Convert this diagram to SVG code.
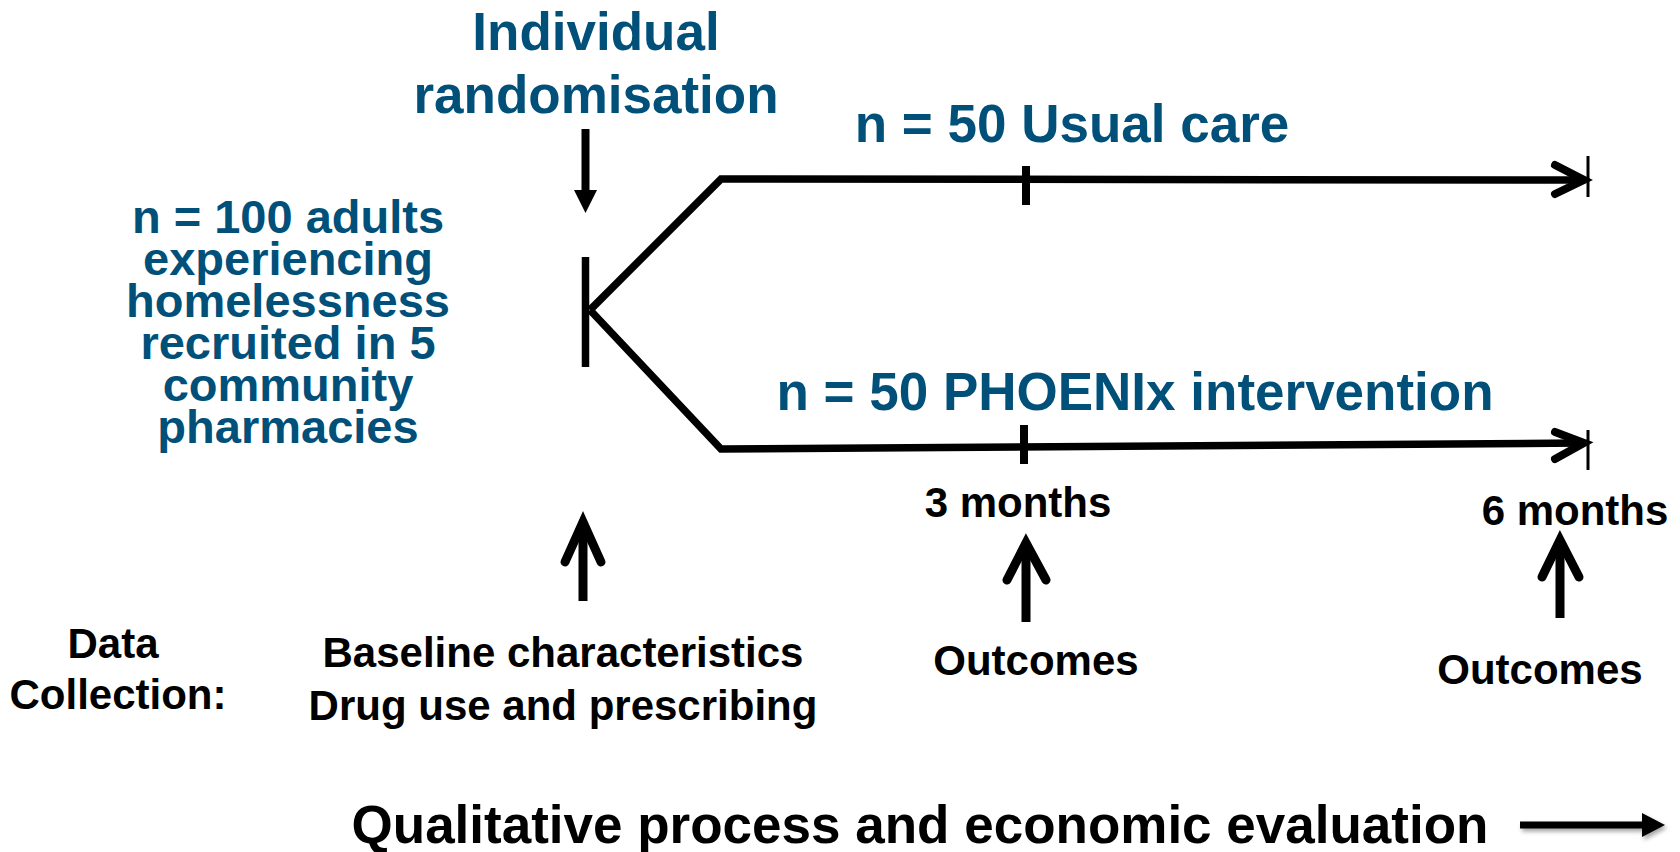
<svg xmlns="http://www.w3.org/2000/svg" width="1680" height="852" viewBox="0 0 1680 852">
<style>
text{font-family:"Liberation Sans",Arial,sans-serif;font-weight:bold;text-anchor:middle}
.blue{fill:#00507A}
.big{font-size:53px}
.mid{font-size:47px}
.sm{font-size:42px;fill:#000}
.ln{stroke:#000;stroke-width:7.5;fill:none}
.thin{stroke:#000;stroke-width:3;fill:none}
.chev{stroke:#000;stroke-width:8;fill:none;stroke-linecap:round;stroke-linejoin:miter}
.up{stroke:#000;stroke-width:9;fill:none;stroke-linejoin:miter}
</style>
<defs>
<filter id="sh" x="-10%" y="-50%" width="130%" height="250%">
<feDropShadow dx="2" dy="3" stdDeviation="2" flood-color="#000" flood-opacity="0.35"/>
</filter>
</defs>
<rect width="1680" height="852" fill="#fff"/>

<g id="randomisation-label">
<text class="blue big" x="596" y="50">Individual</text>
<text class="blue big" x="596" y="113">randomisation</text>
</g>

<g id="population">
<text class="blue mid" x="288" y="233">n = 100 adults</text>
<text class="blue mid" x="288" y="275">experiencing</text>
<text class="blue mid" x="288" y="317">homelessness</text>
<text class="blue mid" x="288" y="359">recruited in 5</text>
<text class="blue mid" x="288" y="401">community</text>
<text class="blue mid" x="288" y="443">pharmacies</text>
</g>

<g id="usual-care">
<text class="blue big" x="1072" y="142">n = 50 Usual care</text>
</g>

<g id="intervention">
<text class="blue big" x="1135" y="410">n = 50 PHOENIx intervention</text>
</g>

<g id="timepoint-3">
<text class="sm" x="1018" y="517">3 months</text>
<text class="sm" x="1036" y="675">Outcomes</text>
</g>

<g id="timepoint-6">
<text class="sm" x="1575" y="525">6 months</text>
<text class="sm" x="1540" y="684">Outcomes</text>
</g>

<g id="data-collection">
<text class="sm" x="113" y="658">Data</text>
<text class="sm" x="118" y="709">Collection:</text>
</g>

<g id="baseline">
<text class="sm" x="563" y="667">Baseline characteristics</text>
<text class="sm" x="563" y="720">Drug use and prescribing</text>
</g>

<g id="evaluation">
<text class="big" x="920" y="843" fill="#000">Qualitative process and economic evaluation</text>
</g>

<g id="connectors">
<!-- randomisation down arrow -->
<line x1="585.5" y1="129" x2="585.5" y2="192" stroke="#000" stroke-width="8"/>
<polygon points="574,190 597,190 585.5,213" fill="#000"/>
<!-- randomisation bar and branches -->
<line x1="585.5" y1="257" x2="585.5" y2="367" class="ln"/>
<polyline points="590,310 721,179 1582,180" class="ln" stroke-linejoin="miter"/>
<polyline points="590,310 721,449 1582,443" class="ln" stroke-linejoin="miter"/>
<!-- ticks at 3 months -->
<line x1="1026" y1="166" x2="1026" y2="205" stroke="#000" stroke-width="8"/>
<line x1="1024" y1="425" x2="1024" y2="464" stroke="#000" stroke-width="8"/>
<!-- arrowheads at 6 months -->
<polyline points="1555,165 1584,180 1555,194" class="chev"/>
<line x1="1588" y1="156" x2="1588" y2="197" class="thin"/>
<polyline points="1555,432 1584,443 1555,459" class="chev"/>
<line x1="1588" y1="430" x2="1588" y2="470" class="thin"/>
<!-- up arrows -->
<path d="M583 601 V522" class="up"/>
<polyline points="565,562 583,522 601,562" class="up" stroke-linecap="round"/>
<path d="M1026 622 V543" class="up"/>
<polyline points="1007,580 1026,543 1046,580" class="up" stroke-linecap="round"/>
<path d="M1560 618 V540" class="up"/>
<polyline points="1542,577 1560,540 1579,577" class="up" stroke-linecap="round"/>
<!-- evaluation arrow -->
<g filter="url(#sh)">
<rect x="1520" y="821.5" width="124" height="7" fill="#000"/>
<polygon points="1642,813 1665,825 1642,837" fill="#000"/>
</g>
</g>
</svg>
